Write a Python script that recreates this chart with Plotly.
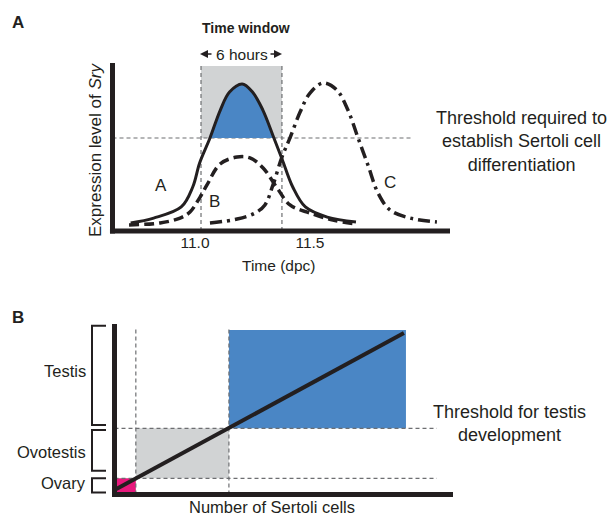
import plotly.graph_objects as go

# ---------------- Panel A data (time in dpc, expression in arbitrary units 0-100) -------------
A_t = [10.72, 10.82, 10.94, 10.99, 11.02, 11.065, 11.11, 11.15, 11.205, 11.25, 11.295, 11.343, 11.38, 11.425, 11.48, 11.575, 11.70]
A_y = [4.8, 7.7, 14.3, 26.2, 40.5, 55.4, 72.0, 82.7, 87.5, 82.7, 72.0, 55.4, 42.3, 26.2, 14.3, 8.3, 5.4]

B_t = [10.713, 10.848, 10.935, 10.978, 11.022, 11.052, 11.109, 11.183, 11.239, 11.296, 11.357, 11.413, 11.5, 11.6, 11.696]
B_y = [3.6, 4.8, 7.7, 11.3, 20.2, 27.4, 39.9, 44.0, 43.5, 37.5, 25.6, 15.5, 10.7, 6.5, 4.2]

C_t = [11.065, 11.183, 11.261, 11.304, 11.339, 11.378, 11.413, 11.457, 11.5, 11.557, 11.617, 11.665, 11.709, 11.752, 11.796, 11.848, 11.935, 12.052]
C_y = [4.8, 7.1, 10.7, 15.5, 27.4, 44.0, 55.4, 70.8, 82.1, 88.1, 83.9, 72.0, 55.4, 39.3, 22.6, 12.5, 7.7, 5.4]

A_threshold = 55.4
threshold_end_t = 11.948
window_start = 11.026
window_end = 11.378
window_top = 98.2
A_tick_vals = [11.0, 11.5]
A_tick_text = ["11.0", "11.5"]
A_x_range = [10.641, 12.109]
A_y_range = [0, 100]
curve_labels = ["A", "B", "C"]
curve_label_t = [10.854, 11.083, 11.848]
curve_label_y = [26.8, 17.6, 28.9]

# ---------------- Panel B data (number of Sertoli cells vs gonad outcome, arbitrary 0-100) -----
ovary_cells_max = 6.3
testis_cells_min = 33.8
ovary_level = 9.5
testis_level = 38.8
testis_box_x_end = 86.1
testis_box_y_end = 96.5
guide_x_end = 95.2
guide_y_end = 98.2
line_x = [0, 85.5]
line_y = [2.6, 94.7]
outcomes = ["Testis", "Ovotestis", "Ovary"]
outcome_label_y = [72.4, 25.2, 6.7]
bracket_lo = [40.8, 14.0, 1.1]
bracket_hi = [99.0, 37.8, 9.5]
B_x_range = [0, 100]
B_y_range = [0, 100]

# ---------------- styles -------------
W, H = 613, 518
INK = "#231f20"
BLUE = "#4a86c5"
GRAY = "#d1d3d4"
PINK = "#e8197d"
GUIDE = "#6d6e71"
FONT = "Liberation Sans, Arial, Helvetica, sans-serif"

def px(x):
    return x / W

def py(y):
    return 1 - y / H

fig = go.Figure()

# Panel A curves
i0 = A_y.index(A_threshold)
i1 = len(A_y) - 1 - A_y[::-1].index(A_threshold)
fig.add_trace(go.Scatter(x=A_t[i0:i1 + 1], y=A_y[i0:i1 + 1], mode="lines", fill="toself",
                         fillcolor=BLUE, line=dict(width=0, shape="spline", color=BLUE),
                         hoverinfo="skip", xaxis="x", yaxis="y"))
fig.add_trace(go.Scatter(x=C_t, y=C_y, mode="lines",
                         line=dict(color=INK, width=3.5, dash="12px,5px,3px,5px", shape="spline"),
                         xaxis="x", yaxis="y"))
fig.add_trace(go.Scatter(x=B_t, y=B_y, mode="lines",
                         line=dict(color=INK, width=3.5, dash="10px,5px", shape="spline"),
                         xaxis="x", yaxis="y"))
fig.add_trace(go.Scatter(x=A_t, y=A_y, mode="lines",
                         line=dict(color=INK, width=3, shape="spline"),
                         xaxis="x", yaxis="y"))

# Panel B line
fig.add_trace(go.Scatter(x=line_x, y=line_y, mode="lines",
                         line=dict(color=INK, width=4), xaxis="x2", yaxis="y2"))

shapes = []
# Panel A: window box, guides, threshold
shapes.append(dict(type="rect", xref="x", yref="y", x0=window_start, x1=window_end,
                   y0=A_threshold, y1=window_top, fillcolor=GRAY, line=dict(width=0), layer="below"))
for xv in (window_start, window_end):
    shapes.append(dict(type="line", xref="x", yref="y", x0=xv, x1=xv, y0=0, y1=window_top,
                       line=dict(color=GUIDE, width=1.2, dash="4px,3px"), layer="below"))
shapes.append(dict(type="line", xref="x", yref="y", x0=A_x_range[0], x1=threshold_end_t,
                   y0=A_threshold, y1=A_threshold,
                   line=dict(color=GUIDE, width=1.1, dash="4px,3px"), layer="below"))
# Panel A axis lines
shapes.append(dict(type="line", xref="x domain", yref="y domain", x0=0, x1=0, y0=-0.015, y1=1,
                   line=dict(color=INK, width=5)))
shapes.append(dict(type="line", xref="x domain", yref="y domain", x0=-0.0075, x1=1, y0=0, y1=0,
                   line=dict(color=INK, width=5)))

# Panel B boxes
shapes.append(dict(type="rect", xref="x2", yref="y2", x0=testis_cells_min, x1=testis_box_x_end,
                   y0=testis_level, y1=testis_box_y_end, fillcolor=BLUE, line=dict(width=0), layer="below"))
shapes.append(dict(type="rect", xref="x2", yref="y2", x0=ovary_cells_max, x1=testis_cells_min,
                   y0=ovary_level, y1=testis_level, fillcolor=GRAY, line=dict(width=0), layer="below"))
shapes.append(dict(type="rect", xref="x2", yref="y2", x0=0, x1=ovary_cells_max,
                   y0=0, y1=ovary_level, fillcolor=PINK, line=dict(width=0), layer="below"))
for xv in (ovary_cells_max, testis_cells_min):
    shapes.append(dict(type="line", xref="x2", yref="y2", x0=xv, x1=xv, y0=0, y1=guide_y_end,
                       line=dict(color=GUIDE, width=1.2, dash="4px,3px"), layer="below"))
for yv in (ovary_level, testis_level):
    shapes.append(dict(type="line", xref="x2", yref="y2", x0=0, x1=guide_x_end, y0=yv, y1=yv,
                       line=dict(color=GUIDE, width=1.2, dash="4px,3px"), layer="below"))
# Panel B axis lines
shapes.append(dict(type="line", xref="x2 domain", yref="y2 domain", x0=0, x1=0, y0=-0.015, y1=1,
                   line=dict(color=INK, width=5)))
shapes.append(dict(type="line", xref="x2 domain", yref="y2 domain", x0=-0.007, x1=1, y0=0, y1=0,
                   line=dict(color=INK, width=5)))
# Brackets
bx_v, bx_e = px(92), px(106)
for lo, hi in zip(bracket_lo, bracket_hi):
    shapes.append(dict(type="path", xref="paper", yref="y2",
                       path=f"M {bx_e},{hi} L {bx_v},{hi} L {bx_v},{lo} L {bx_e},{lo}",
                       line=dict(color=INK, width=2)))

ann = []
def text(x, y, s, size, xref="paper", yref="paper", **kw):
    d = dict(x=x, y=y, xref=xref, yref=yref, text=s, showarrow=False,
             xanchor="center", yanchor="middle",
             font=dict(family=FONT, size=size, color=INK))
    d.update(kw)
    ann.append(d)

text(px(18), py(22), "<b>A</b>", 17)
text(px(18), py(317), "<b>B</b>", 17)
text(px(246), py(28), "<b>Time window</b>", 14)
text(px(241.5), py(54), "6 hours", 15.5)
for tip, off in ((200, 13), (282, -13)):
    ann.append(dict(x=px(tip), y=py(54), xref="paper", yref="paper", text="", showarrow=True,
                    ax=off, ay=0, arrowhead=2, arrowsize=1, arrowwidth=1.6, arrowcolor=INK, standoff=0))
text(px(95), py(150), "Expression level of <i>Sry</i>", 17, textangle=-90)
text(px(278.5), py(265), "Time (dpc)", 15.5)
text(px(521.5), py(141), "Threshold required to<br>establish Sertoli cell<br>differentiation", 18)
for lab, lt, ly in zip(curve_labels, curve_label_t, curve_label_y):
    text(lt, ly, lab, 17, xref="x", yref="y")
for lab, ly in zip(outcomes, outcome_label_y):
    text(px(88), ly, lab, 16.5, yref="y2", xanchor="right")
text(px(509.5), py(423.4), "Threshold for testis<br>development", 18)
text(px(271.5), py(507), "Number of Sertoli cells", 16.5)

fig.update_layout(
    width=W, height=H, margin=dict(l=0, r=0, t=0, b=0),
    paper_bgcolor="white", plot_bgcolor="rgba(0,0,0,0)", showlegend=False,
    font=dict(family=FONT, color=INK),
    shapes=shapes, annotations=ann,
    xaxis=dict(domain=[px(112.5), px(450)], range=A_x_range, showgrid=False, zeroline=False,
               showline=False, tickvals=A_tick_vals, ticktext=A_tick_text, ticks="",
               tickfont=dict(family=FONT, size=15.5, color=INK), anchor="y"),
    yaxis=dict(domain=[py(231), py(63)], range=A_y_range, visible=False, anchor="x"),
    xaxis2=dict(domain=[px(114.5), px(453)], range=B_x_range, visible=False, anchor="y2"),
    yaxis2=dict(domain=[py(494.5), py(324)], range=B_y_range, visible=False, anchor="x2"),
)

fig.write_html("out.html", config={"displayModeBar": False},
               post_script="document.body.style.margin='0';document.body.style.padding='0';")
